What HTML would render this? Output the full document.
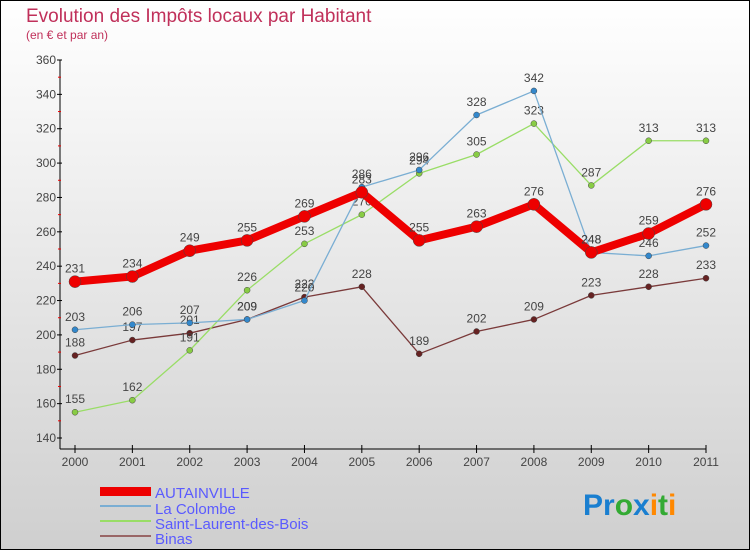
<!DOCTYPE html>
<html><head><meta charset="utf-8"><style>
body{margin:0}
#c{width:750px;height:550px;position:relative;font-family:"Liberation Sans",sans-serif}
</style></head><body>
<div id="c">
<svg id="s" width="750" height="550">
<defs><linearGradient id="bg" x1="0" y1="0" x2="0" y2="1"><stop offset="0" stop-color="#ffffff"/><stop offset="1" stop-color="#cfcfcf"/></linearGradient></defs>
<rect x="0.5" y="0.5" width="749" height="549" fill="url(#bg)" stroke="#000"/>
<text x="26" y="22" font-size="19" fill="#c0305a">Evolution des Impôts locaux par Habitant</text>
<text x="26" y="39" font-size="12" fill="#c0305a">(en € et par an)</text>
<g id="axes"></g><g id="series"></g>
<g>
<rect x="100" y="487" width="51" height="9" fill="#ee0000"/>
<rect x="100" y="505" width="51" height="2" fill="#7aaed3"/>
<rect x="100" y="520" width="51" height="2" fill="#99dd66"/>
<rect x="100" y="535" width="51" height="2" fill="#996666"/>
<g font-size="15" fill="#5a5aff">
<text x="155" y="498">AUTAINVILLE</text>
<text x="155" y="514">La Colombe</text>
<text x="155" y="529">Saint-Laurent-des-Bois</text>
<text x="155" y="544">Binas</text>
</g></g>
<g font-size="30" font-weight="bold">
<text x="583" y="515"><tspan fill="#1a7fd0">Pr</tspan><tspan fill="#33aa33">o</tspan><tspan fill="#1a7fd0">x</tspan><tspan fill="#ff8800">i</tspan><tspan fill="#33aa33">t</tspan><tspan fill="#ff8800">i</tspan></text>
</g>
</svg></div>
<script>
const years=["2000","2001","2002","2003","2004","2005","2006","2007","2008","2009","2010","2011"];
const autainville=[231,234,249,255,269,283,255,263,276,248,259,276];
const laColombe=[203,206,207,209,220,286,296,328,342,248,246,252];
const saintLaurent=[155,162,191,226,253,270,294,305,323,287,313,313];
const binas=[188,197,201,209,222,228,189,202,209,223,228,233];
const yTicks=[140,160,180,200,220,240,260,280,300,320,340,360];
const NS="http://www.w3.org/2000/svg";
const X=i=>75+i*(706-75)/(years.length-1);
const Y=v=>60+(360-v)*(438-60)/220;
function mk(t,a,p){const e=document.createElementNS(NS,t);for(const k in a)e.setAttribute(k,a[k]);p.appendChild(e);return e;}
const ax=document.getElementById('axes');
const yl=mk('line',{x1:60,y1:60,x2:60,y2:449,stroke:'#000'},ax);


const xl=mk('line',{x1:60,y1:449,x2:706,y2:449,stroke:'#000'},ax);


yTicks.forEach(v=>{
 mk('line',{x1:57,y1:Y(v),x2:62,y2:Y(v),stroke:'#000'},ax);
 if(v<360)mk('line',{x1:58,y1:Y(v+10),x2:61,y2:Y(v+10),stroke:'#e00'},ax);
 const t=mk('text',{x:56,y:Y(v)+4,'font-size':12,fill:'#444','text-anchor':'end'},ax);t.textContent=v;
 
 
});
years.forEach((y,i)=>{
 mk('line',{x1:X(i),y1:445,x2:X(i),y2:453,stroke:'#000'},ax);
 const t=mk('text',{x:X(i),y:466,'font-size':12,fill:'#444','text-anchor':'middle'},ax);t.textContent=y;
 
 
});
const sg=document.getElementById('series');
function series(d,color,w,r,name,dot){
 const g=mk('g',{},sg);
 
 
 mk('polyline',{points:d.map((v,i)=>X(i)+','+Y(v)).join(' '),fill:'none',stroke:color,'stroke-width':w,'stroke-linejoin':'round'},g);
 d.forEach((v,i)=>{
  const c=mk('circle',{cx:X(i),cy:Y(v),r:r,fill:dot,stroke:'#444','stroke-width':0.5},g);
  
  
  const t=mk('text',{x:X(i),y:Y(v)-9,'font-size':12,fill:'#444','text-anchor':'middle'},g);t.textContent=v;
  
  
 });
}
series(binas,'#7a3a3a',1.3,3,'binas','#662222');
series(saintLaurent,'#99dd66',1.3,3,'saint-laurent','#88cc44');
series(laColombe,'#7aaed3',1.3,3,'la-colombe','#3388cc');
series(autainville,'#ee0000',8,6,'autainville','#ee0000');
</script>
</body></html>
